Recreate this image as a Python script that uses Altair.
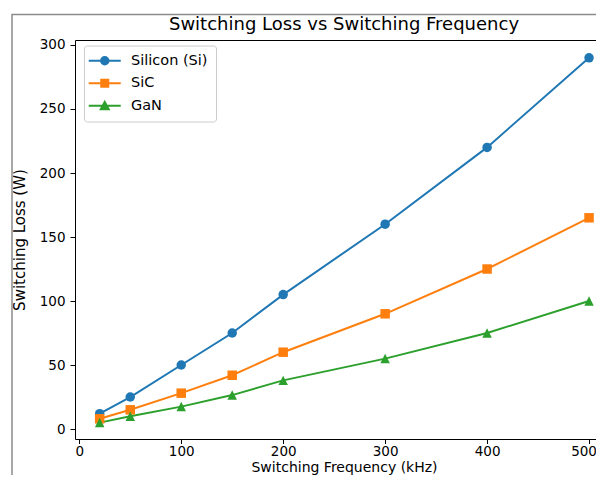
import altair as alt
import pandas as pd

freq = [20, 50, 100, 150, 200, 300, 400, 500]
si = [12, 25, 50, 75, 105, 160, 220, 290]
sic = [8, 15, 28, 42, 60, 90, 125, 165]
gan = [5, 10, 17.5, 26.5, 38, 55, 75, 100]
materials = ["Silicon (Si)", "SiC", "GaN"]
colors = ["#1f77b4", "#ff7f0e", "#2ca02c"]
x_ticks = [0, 100, 200, 300, 400, 500]
y_ticks = [0, 50, 100, 150, 200, 250, 300]

rows = []
for name, vals in zip(materials, [si, sic, gan]):
    for f, v in zip(freq, vals):
        rows.append({"freq": f, "loss": v, "Material": name})
df = pd.DataFrame(rows)

FONT = "DejaVu Sans"

x_enc = alt.X(
    "freq:Q",
    scale=alt.Scale(domain=[-4.2, 523.5], nice=False, zero=False),
    axis=alt.Axis(
        values=x_ticks, title="Switching Frequency (kHz)", titleX=269,
        titleY=32.5, titleBaseline="alphabetic", titleAlign="center",
        titleFontSize=14, tickSize=4.5, labelPadding=1,
        labelOffset={"condition": {"test": "datum.value === 500", "value": -5.5}, "value": 0},
    ),
)
y_enc = alt.Y(
    "loss:Q",
    scale=alt.Scale(domain=[-7.8, 303.9], nice=False, zero=False),
    axis=alt.Axis(
        values=y_ticks, title="Switching Loss (W)", titleX=-56, titleY=199.5,
        titleAngle=-90, titleBaseline="middle", titleAlign="center",
        titleFontSize=15,
    ),
)

color_scale = alt.Scale(domain=materials, range=colors)
base = alt.Chart(df).encode(x=x_enc, y=y_enc)

lines = base.mark_line(strokeWidth=2).encode(
    color=alt.Color("Material:N", scale=color_scale, legend=None),
)

points = base.mark_point(filled=True, size=90, opacity=1).encode(
    color=alt.Color("Material:N", scale=color_scale, legend=None),
    shape=alt.Shape(
        "Material:N",
        scale=alt.Scale(domain=materials, range=["circle", "square", "M0,-1L1,1L-1,1Z"]),
        legend=None,
    ),
)

legend_paths = [
    "M-3.2,0H3.2M-0.75,0A0.75,0.75,0,1,1,0.75,0A0.75,0.75,0,1,1,-0.75,0Z",
    "M-3.2,0H3.2M-0.7,-0.7H0.7V0.7H-0.7Z",
    "M-3.2,0H3.2M0,-0.78L0.8,0.72L-0.8,0.72Z",
]
leg = alt.Legend(
    title=None, orient="none", legendX=9, legendY=5.5,
)
legend_layer = base.mark_point(filled=True, strokeWidth=2).encode(
    fill=alt.Fill("Material:N", scale=alt.Scale(domain=materials, range=colors), legend=leg),
    stroke=alt.Stroke("Material:N", scale=alt.Scale(domain=materials, range=colors), legend=leg),
    shape=alt.Shape("Material:N", scale=alt.Scale(domain=materials, range=legend_paths), legend=leg),
).transform_filter("false")

frame = alt.Chart(pd.DataFrame({"a": [0]})).mark_rect(
    filled=False, stroke="#8c8c8c", strokeWidth=1.5, fill=None
).encode(
    x=alt.value(-63), y=alt.value(-25.5), x2=alt.value(800), y2=alt.value(800)
)

chart = alt.layer(frame, lines, points, legend_layer).resolve_scale(
    shape="independent", fill="independent", stroke="independent"
).properties(
    width=538,
    height=399,
    padding={"left": 67, "top": 32, "right": -17, "bottom": 36},
    autosize=alt.AutoSizeParams(type="none"),
    title=alt.Title(
        "Switching Loss vs Switching Frequency", fontSize=18, font=FONT,
        fontWeight="normal", color="black", anchor="middle", frame="group",
        offset=-8.4, dy=25.6, baseline="alphabetic",
    ),
).configure(
    font=FONT,
).configure_view(
    stroke="black", strokeWidth=1,
).configure_axis(
    grid=False, domain=False, tickColor="black", tickSize=5, tickWidth=1,
    labelFont=FONT, labelFontSize=13.5, labelColor="black", labelPadding=5,
    titleFont=FONT, titleFontSize=14, titleColor="black", titleFontWeight="normal",
).configure_legend(
    padding=8, strokeColor="#cccccc", fillColor="white", cornerRadius=3,
    labelFont=FONT, labelFontSize=14.5, labelColor="black",
    symbolSize=100, symbolStrokeWidth=2, rowPadding=6.5,
    symbolOffset=5.5, labelOffset=19, symbolOpacity=1,
)

chart.save("out.html", embed_options={"renderer": "svg", "actions": False})
